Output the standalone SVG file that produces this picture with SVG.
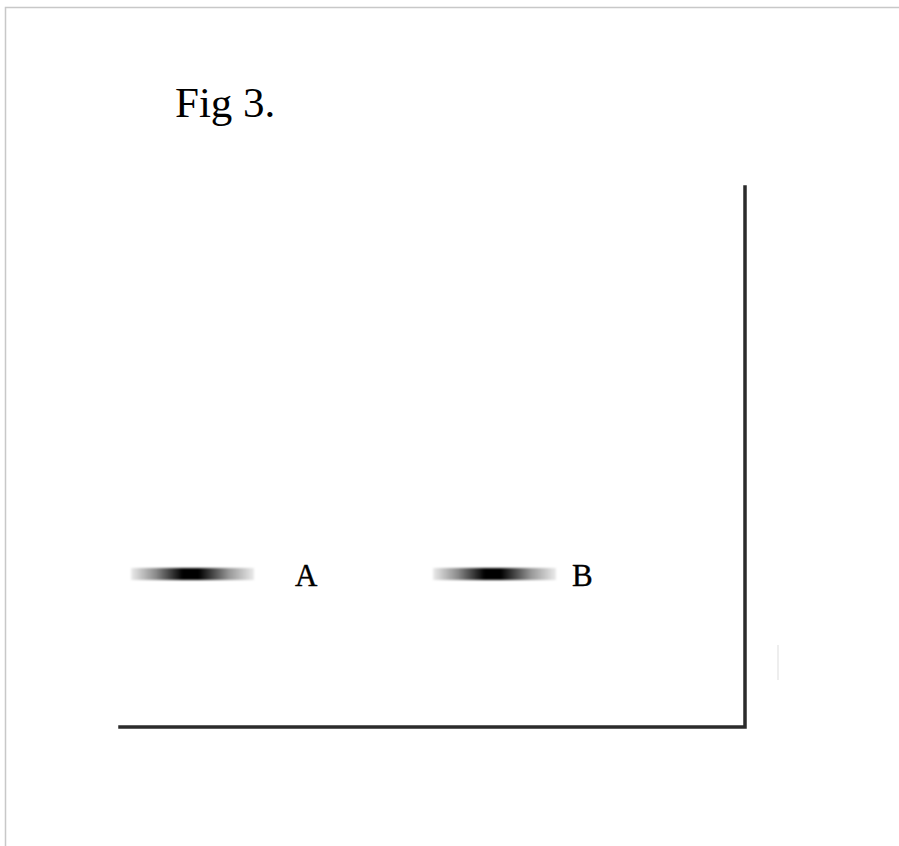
<svg xmlns="http://www.w3.org/2000/svg" width="899" height="846" viewBox="0 0 899 846">
  <defs>
    <linearGradient id="band" x1="0" y1="0" x2="1" y2="0">
      <stop offset="0" stop-color="#000" stop-opacity="0.08"/>
      <stop offset="0.2" stop-color="#000" stop-opacity="0.45"/>
      <stop offset="0.42" stop-color="#000" stop-opacity="1"/>
      <stop offset="0.55" stop-color="#000" stop-opacity="1"/>
      <stop offset="0.8" stop-color="#000" stop-opacity="0.4"/>
      <stop offset="1" stop-color="#000" stop-opacity="0.08"/>
    </linearGradient>
    <filter id="soft" x="-10%" y="-100%" width="120%" height="300%">
      <feGaussianBlur stdDeviation="0.9"/>
    </filter>
  </defs>
  <style>
    .lbl { font-family: "Liberation Serif", "DejaVu Serif", serif; fill: #000; }
    .axis { stroke: #2b2b2b; stroke-width: 3.5; fill: none; stroke-linecap: square; }
  </style>
  <rect x="0" y="0" width="899" height="846" fill="#fff"/>
  <path d="M5.5 846 V7.5 H899" fill="none" stroke="#c8c8c8" stroke-width="1.5"/>
  <text id="title" class="lbl" x="175" y="117" font-size="43">Fig 3.</text>
  <g id="axes">
    <path class="axis" d="M120 727 H745 V187"/>
  </g>
  <g id="bandA">
    <rect x="131" y="568" width="123" height="12" fill="url(#band)" filter="url(#soft)"/>
    <text class="lbl" x="295" y="586" font-size="31" stroke="#000" stroke-width="0.4">A</text>
  </g>
  <g id="bandB">
    <rect x="433" y="568" width="123" height="12" fill="url(#band)" filter="url(#soft)"/>
    <text class="lbl" x="572" y="586" font-size="31" stroke="#000" stroke-width="0.4">B</text>
  </g>
  <g id="faint">
    <line x1="778" y1="645" x2="778" y2="680" stroke="#eeeeee" stroke-width="2"/>
  </g>
</svg>
